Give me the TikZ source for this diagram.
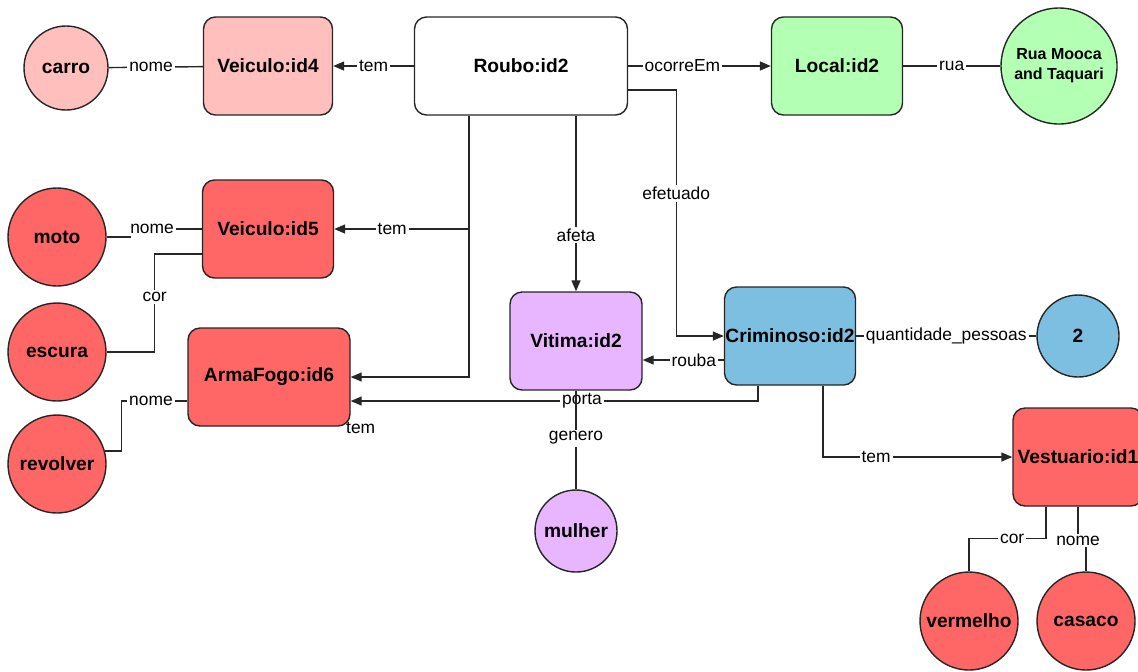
\documentclass[tikz,border=0pt]{standalone}
\usepackage{fontspec}
\setmainfont{Liberation Sans}
\usepackage{xcolor}
\usetikzlibrary{arrows.meta,positioning,calc}

\definecolor{pinkc}{RGB}{255,191,189}
\definecolor{redc}{RGB}{255,102,102}
\definecolor{greenc}{RGB}{179,255,179}
\definecolor{purplec}{RGB}{232,181,255}
\definecolor{bluec}{RGB}{125,191,224}

\begin{document}
\begin{tikzpicture}[x=0.5pt, y=-0.5pt,
  ent/.style={draw=black!85, rounded corners=6pt, minimum height=49pt, inner sep=0pt, align=center, line width=0.7pt, font=\fontsize{9.6}{11}\selectfont\bfseries},
  val/.style={draw=black!85, circle, inner sep=0pt, align=center, line width=0.7pt, font=\fontsize{9.6}{11}\selectfont\bfseries},
  lbl/.style={fill=white, inner sep=1pt, font=\fontsize{8.7}{10}\selectfont},
  line/.style={line width=0.7pt, draw=black!85},
  arrow/.style={line, -{Triangle[length=5.5pt, width=4.5pt]}}
]
\useasboundingbox (0,0) rectangle (1138,671);

% entities
\node[val, fill=pinkc, minimum size=42pt] (carro) at (66,68) {carro};
\node[ent, fill=pinkc, minimum width=64.5pt] (veic4) at (268,66) {Veiculo:id4};
\node[ent, fill=white, minimum width=106.5pt] (roubo) at (521,66) {Roubo:id2};
\node[ent, fill=greenc, minimum width=65.5pt] (local) at (837,66) {Local:id2};
\node[val, fill=greenc, minimum size=58pt, font=\fontsize{8}{10}\selectfont\bfseries] (rua) at (1059,66) {Rua Mooca\\and Taquari};

\node[val, fill=redc, minimum size=49pt] (moto) at (57,237) {moto};
\node[ent, fill=redc, minimum width=65.5pt] (veic5) at (268,229) {Veiculo:id5};
\node[val, fill=redc, minimum size=49pt] (escura) at (57,352) {escura};
\node[ent, fill=redc, minimum width=81pt] (arma) at (269,377) {ArmaFogo:id6};
\node[val, fill=redc, minimum size=49pt] (revolver) at (57,464) {revolver};

\node[ent, fill=purplec, minimum width=66pt] (vitima) at (576,341) {Vitima:id2};
\node[val, fill=purplec, minimum size=41pt] (mulher) at (576,531) {mulher};
\node[ent, fill=bluec, minimum width=65.5pt] (crim) at (790,336) {Criminoso:id2};
\node[val, fill=bluec, minimum size=41pt] (qtd) at (1078,336) {2};

\node[ent, fill=redc, minimum width=65pt] (vest) at (1078,457) {Vestuario:id1};
\node[val, fill=redc, minimum size=49pt] (vermelho) at (969,621) {vermelho};
\node[val, fill=redc, minimum size=49pt] (casaco) at (1086,621) {casaco};

% relations
\draw[arrow] (roubo) -- node[lbl]{tem} (veic4);
\draw[line] (carro) -- node[lbl, pos=0.45]{nome} (veic4);
\draw[arrow] (roubo) -- node[lbl, pos=0.38]{ocorreEm} (local);
\draw[line] (local) -- node[lbl]{rua} (rua);

\draw[arrow] ([xshift=-26pt]roubo.south) |- node[lbl, pos=0.785]{tem} (veic5);
\draw[arrow] ([xshift=-26pt]roubo.south) |- node[pos=1, xshift=5pt, yshift=-25.5pt, inner sep=1pt, font=\fontsize{8.7}{10}\selectfont]{tem} (arma);
\draw[arrow] (roubo.south -| vitima) -- node[lbl, pos=0.68]{afeta} (vitima);
\draw[arrow] ([yshift=-12pt]roubo.east) -- ++(48,0) |- node[lbl, pos=0.21]{efetuado} (crim);

\draw[line] (moto.east) -- ++(24,0) |- node[lbl, pos=0.65]{nome} (veic5);
\draw[line] (escura.east) -- ++(48,0) |- node[lbl, pos=0.28]{cor} ([yshift=-12.5pt]veic5.west);
\draw[line] ([yshift=-12pt]arma.west) -- node[lbl, pos=0.55]{nome} ++(-66,0) |- (revolver.15);

\coordinate (rb) at ([yshift=-12pt]crim.west);
\draw[arrow] (rb) -- node[lbl, pos=0.37]{rouba} (rb -| vitima.east);
\draw[arrow] ([xshift=-16pt]crim.south) |- node[lbl, pos=0.716]{porta} ([yshift=-12pt]arma.east);
\draw[line] (vitima) -- node[lbl, pos=0.48]{genero} (mulher);
\draw[line] (crim) -- node[lbl]{quantidade\_pessoas} (qtd);
\draw[arrow] ([xshift=16.5pt]crim.south) |- node[lbl, pos=0.64]{tem} (vest);

\draw[line] ([xshift=-16pt]vest.south) -- ++(0,32) -| node[lbl, pos=0.22]{cor} (vermelho);
\draw[line] (vest.south) -- ++(0,34) node[lbl]{nome} -| (casaco);
\end{tikzpicture}
\end{document}
